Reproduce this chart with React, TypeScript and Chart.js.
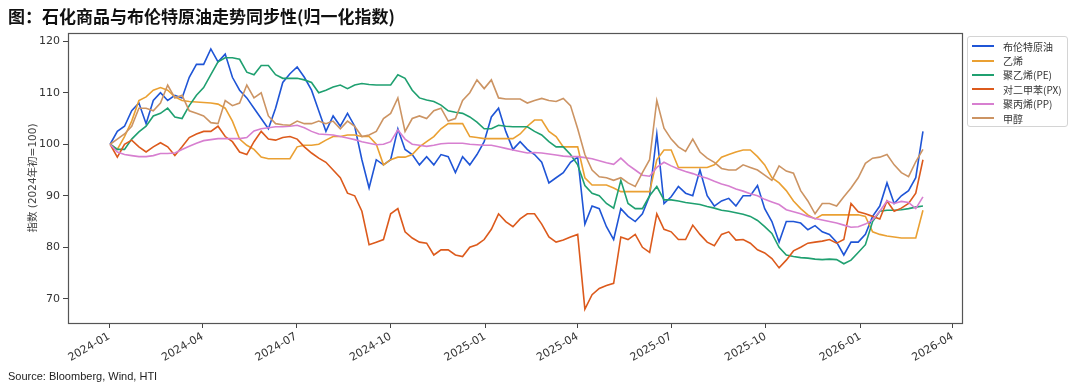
import React, { useEffect, useRef } from "react";
import { Chart, registerables } from "chart.js";

Chart.register(...registerables);

// ---------- data ----------
const BASE_DATE = "2024-01-01";
const FIRST_DATE = "2024-01-02"; // first weekly observation
const STEP_DAYS = 7;
const X_MIN_DATE = "2023-11-22";
const X_MAX_DATE = "2026-04-10";
const X_TICK_LABELS = [
  "2024-01", "2024-04", "2024-07", "2024-10", "2025-01",
  "2025-04", "2025-07", "2025-10", "2026-01", "2026-04",
];
const Y_TICKS = [70, 80, 90, 100, 110, 120];
const Y_MIN = 65.3;
const Y_MAX = 121.6;

const SERIES_NAMES = ["布伦特原油", "乙烯", "聚乙烯(PE)", "对二甲苯(PX)", "聚丙烯(PP)", "甲醇"];
const SERIES_COLORS = ["#1f55d6", "#eaa032", "#1fa070", "#dc5a1c", "#d77fd0", "#cc9463"];

const brent = [
  100, 102.5, 103.5, 106.5, 108, 104, 108.5, 110, 108.5, 109.5,
  109, 113, 115.5, 115.5, 118.5, 116, 117.5, 113, 110.5, 109,
  107, 105, 103, 107, 112, 113.7, 115, 113, 110.5, 106.5,
  102.5, 105.5, 103.5, 106, 103.5, 97, 91.5, 97, 96, 97,
  103, 99, 98, 96, 97.6, 96, 98, 97.6, 94.5, 97.6,
  96, 98, 100.5, 105.3, 107, 102.5, 99, 100.5, 99, 98,
  96.5, 92.5, 93.5, 94.5, 96.5, 97.5, 84.5, 88, 87.5, 84,
  81.5, 87.5, 86, 85, 86.5, 90, 102, 88.5, 89.8, 91.8,
  90.5, 90, 95, 90, 88, 89, 89.5, 88, 90, 90,
  92, 87.5, 85, 81, 85, 85, 84.7, 83.4, 84.2, 83,
  82.5, 81, 78.5, 81, 81, 82.5, 86, 88, 92.5, 88.5,
  90, 91, 93.5, 102.5,
];

const ethylene = [
  100, 99, 101.5, 104.5, 108.5, 109.2, 110.5, 111, 110.5, 109.2,
  108.5, 108.3, 108.2, 108.1, 108, 107.8, 107, 104.5, 101, 99.8,
  99, 97.5, 97.2, 97.2, 97.2, 97.2, 99.5, 99.8, 99.8, 100,
  100.8, 101.5, 101.5, 101.8, 101.8, 101.5, 101.5, 100, 96, 97,
  97.5, 97.5, 98, 99.5, 100.5, 101.5, 103, 104, 104, 104,
  101.5, 101.3, 101.1, 101.1, 101.1, 101.1, 101.1, 102, 103.5, 104.7,
  104.7, 102.5, 101.5, 99.5, 99.5, 99.5, 93.5, 92.1, 92.1, 92.1,
  91.5, 90.8, 90.8, 90.8, 90.8, 90.8, 97, 98.9, 98.9, 95.5,
  95.5, 95.5, 95.5, 95.5, 96, 97.5, 98, 98.5, 98.9, 98.9,
  97.6, 96, 93.5, 92.5, 91, 89, 87.5, 86.3, 85.5, 86.3,
  86.3, 86.3, 86.3, 86.3, 86.3, 86, 83, 82.5, 82.2, 82,
  81.8, 81.8, 81.8, 87.2,
];

const pe = [
  100, 99, 99, 101, 102.4, 103.5, 105.5, 106, 107, 105.3,
  105, 107.5, 109.5, 111, 113.5, 116, 116.8, 116.8, 116.5, 114,
  113.5, 115.3, 115.3, 113.5, 112.8, 112.8, 112.8, 112.5, 112, 110,
  110.5, 111.1, 111.5, 110.8, 111.5, 111.8, 111.6, 111.5, 111.5, 111.5,
  113.5, 112.8, 110.5, 109, 108.6, 108.3, 107.6, 106.5, 106.2, 106,
  105.3, 104.3, 103, 103, 103.7, 103.5, 103.4, 103.4, 103.4, 102.5,
  101.8, 100.5, 99.5, 99.5, 98, 96, 92, 90.5, 90, 88.5,
  87.6, 93, 88.5, 87.5, 87.5, 90, 91.8, 89.2, 89.2, 89,
  88.7, 88.5, 88.3, 87.9, 87.6, 87.2, 87, 86.7, 86.4, 86,
  85.2, 84, 82.7, 80, 78.5, 78.2, 78, 77.9, 77.7, 77.6,
  77.7, 77.6, 76.8, 77.5, 79, 80.5, 85, 87, 87.2, 87.2,
  87.3, 87.5, 87.8, 88,
];

const px = [
  100, 97.5, 100, 100.8, 99.5, 98.5, 99.5, 100.3, 99.5, 97.8,
  99.5, 101.3, 102, 102.5, 102.5, 103.5, 101.5, 100.5, 98.5, 98,
  100.5, 102.5, 101, 100.8, 101.3, 101.5, 101, 99.5, 98.3, 97.3,
  96.5, 95, 93.5, 90.5, 90, 87, 80.5, 81, 81.5, 86.5,
  87.5, 83, 81.8, 81, 80.8, 78.5, 79.5, 79.5, 78.5, 78.2,
  80, 80.5, 81.5, 83.5, 86.5, 85, 84, 85.5, 86.5, 86.5,
  84.5, 82, 81, 81.4, 82, 82.5, 68, 70.8, 72, 72.6,
  73, 82, 81.5, 82.5, 80, 79, 86.5, 83.5, 83, 81.5,
  81.5, 84.3, 82.5, 81, 80.3, 82.5, 83, 81.4, 81.5, 80.8,
  79.5, 78.9, 77.8, 76, 77.5, 79.3, 80, 80.8, 81, 81.2,
  81.5, 80.8, 81.5, 88.5, 86.9, 86.5, 86, 85.5, 89, 87,
  87.6, 88.5, 90.5, 97,
];

const pp = [
  100, 98.5, 98, 97.8, 97.6, 97.6, 97.8, 98.2, 98.2, 98.3,
  99, 99.6, 100.2, 100.7, 100.9, 101.1, 101.1, 101.1, 101.1, 101.3,
  102.6, 103, 103.2, 103.4, 103.4, 103.5, 103.7, 103.2, 102.5, 102,
  101.9, 101.8, 101.5, 101.2, 100.9, 100.5, 100.2, 99.9, 100, 100.5,
  102.8, 101, 100, 99.8, 99.6, 99.8, 100.1, 100.2, 100.2, 100.2,
  100, 99.9, 99.8, 99.8, 99.5, 99.2, 98.9, 98.6, 98.3, 98.4,
  98.3, 98.1, 97.9, 97.7, 97.6, 97.6, 97.4, 97.2, 96.8, 96.4,
  96.1, 97.3, 96, 95, 94, 93.8, 95.5, 96.5, 95.8, 95.2,
  94.7, 94.3, 93.8, 93.4, 92.8, 92.3, 91.9, 91.3, 90.9, 90.4,
  90, 89.3, 88.8, 88.3, 87.3, 86.9, 86.5, 86, 85.6, 85.3,
  85, 84.7, 84.3, 83.9, 84, 84.5, 85.3, 87, 89, 88.5,
  88.9, 88.7, 87.5, 89.8,
];

const methanol = [
  100, 101, 102, 103.5, 107, 107, 106.5, 108, 111.5, 109,
  109.5, 106.5, 106, 105.5, 104.2, 104, 108.5, 107.5, 108, 111.5,
  109, 110, 105.5, 104, 103.8, 103.7, 104.5, 104, 104, 104.5,
  104, 104.5, 103, 104.5, 103.5, 101.5, 101.8, 102.5, 105, 106,
  109, 102.5, 105, 105.5, 105, 106.5, 107, 104.5, 105, 108.5,
  110, 112.5, 110.8, 112.5, 109, 108.8, 108.8, 108.8, 108, 108.5,
  108.9, 108.5, 108.3, 108.9, 107.5, 103, 98, 95, 93.7, 93.5,
  93, 93.5, 92.5, 91.8, 94.5, 97, 108.5, 103.1, 101, 99.5,
  98.6, 101, 98.5, 97.3, 96.5, 95.3, 95, 95, 96, 95.5,
  95, 94, 93, 95.8, 94.8, 94.4, 91, 89, 86.5, 88.5,
  88.5, 88, 89.8, 91.5, 93.5, 96.3, 97.3, 97.5, 98, 96,
  94.5, 93.7, 96.6, 99,
];

const SERIES_VALUES = [brent, ethylene, pe, px, pp, methanol];

// ---------- helpers ----------
const DAY_MS = 86400000;
function utcOf(iso: string): number {
  const [y, m, d] = iso.split("-").map(Number);
  return Date.UTC(y, m - 1, d || 1);
}
function dayOf(iso: string): number {
  return Math.round((utcOf(iso) - utcOf(BASE_DATE)) / DAY_MS);
}
const DATES: string[] = brent.map((_, i) =>
  new Date(utcOf(FIRST_DATE) + i * STEP_DAYS * DAY_MS).toISOString().slice(0, 10)
);
const TICK_POS = X_TICK_LABELS.map((l) => dayOf(l + "-01"));

const TICK_FONT = '"DejaVu Sans", "Noto Sans CJK SC", sans-serif';

const framePlugin = {
  id: "frame",
  afterDatasetsDraw(chart: any) {
    const { ctx, chartArea } = chart;
    ctx.save();
    ctx.strokeStyle = "#555555";
    ctx.lineWidth = 1.2;
    ctx.strokeRect(
      Math.round(chartArea.left) + 0.5,
      Math.round(chartArea.top) + 0.5,
      Math.round(chartArea.right - chartArea.left),
      Math.round(chartArea.bottom - chartArea.top)
    );
    ctx.restore();
  },
};

export default function App() {
  const ref = useRef<HTMLCanvasElement | null>(null);

  useEffect(() => {
    if (!ref.current) return;
    const datasets = SERIES_NAMES.map((name, s) => ({
      label: name,
      data: SERIES_VALUES[s].map((v, i) => ({ x: dayOf(DATES[i]), y: v })),
      borderColor: SERIES_COLORS[s],
      backgroundColor: SERIES_COLORS[s],
      borderWidth: 1.6,
      pointRadius: 0,
      tension: 0,
      fill: false,
      order: SERIES_NAMES.length - s,
    }));

    const chart = new Chart(ref.current, {
      type: "line",
      data: { datasets },
      plugins: [framePlugin],
      options: {
        animation: false,
        responsive: false,
        maintainAspectRatio: false,
        parsing: false as any,
        layout: { padding: { left: 23, right: 118, top: 33, bottom: 16 } },
        plugins: {
          legend: { display: false },
          tooltip: { enabled: false },
          title: { display: false },
        },
        scales: {
          x: {
            type: "linear",
            min: dayOf(X_MIN_DATE),
            max: dayOf(X_MAX_DATE),
            afterBuildTicks: (scale: any) => {
              scale.ticks = TICK_POS.map((v) => ({ value: v }));
            },
            afterFit: (scale: any) => {
              scale.height = 50;
            },
            ticks: {
              autoSkip: false,
              minRotation: 30,
              maxRotation: 30,
              padding: 2,
              color: "#333333",
              font: { family: TICK_FONT, size: 11 },
              callback: (v: any) => {
                const idx = TICK_POS.indexOf(Number(v));
                return idx >= 0 ? X_TICK_LABELS[idx] : "";
              },
            },
            grid: {
              display: true,
              drawOnChartArea: false,
              drawTicks: true,
              tickLength: 5,
              color: "#444444",
            },
            border: { display: false },
          },
          y: {
            type: "linear",
            min: Y_MIN,
            max: Y_MAX,
            afterBuildTicks: (scale: any) => {
              scale.ticks = Y_TICKS.map((v) => ({ value: v }));
            },
            afterFit: (scale: any) => {
              scale.width = 45;
            },
            ticks: {
              autoSkip: false,
              padding: 3,
              color: "#333333",
              font: { family: TICK_FONT, size: 11 },
              callback: (v: any) => String(v),
            },
            grid: {
              display: true,
              drawOnChartArea: false,
              drawTicks: true,
              tickLength: 5,
              color: "#444444",
            },
            border: { display: false },
            title: {
              display: true,
              text: "指数 (2024年初=100)",
              color: "#444444",
              font: { family: TICK_FONT, size: 10.5 },
              padding: { top: 4, bottom: 4 },
            },
          },
        },
      },
    });
    return () => chart.destroy();
  }, []);

  return (
    <div
      style={{
        position: "absolute",
        left: 0,
        top: 0,
        width: 1080,
        height: 389,
        background: "#ffffff",
        overflow: "hidden",
      }}
    >
      <canvas
        ref={ref}
        width={1080}
        height={389}
        style={{ position: "absolute", left: 0, top: 0, width: 1080, height: 389 }}
      />
      <div
        style={{
          position: "absolute",
          left: 8,
          top: 5,
          fontFamily: '"Noto Sans CJK SC", sans-serif',
          fontWeight: 700,
          fontSize: 17,
          lineHeight: "22px",
          color: "#111111",
          whiteSpace: "nowrap",
        }}
      >
        图：石化商品与布伦特原油走势同步性(归一化指数)
      </div>
      <div
        style={{
          position: "absolute",
          left: 967,
          top: 36,
          width: 101,
          height: 91,
          border: "1px solid #d4d4d4",
          borderRadius: 3,
          boxSizing: "border-box",
          background: "#ffffff",
          paddingTop: 2,
        }}
      >
        {SERIES_NAMES.map((name, i) => (
          <div
            key={name}
            style={{
              display: "flex",
              alignItems: "center",
              height: 14.4,
              fontFamily: '"Noto Sans CJK SC", "DejaVu Sans", sans-serif',
              fontSize: 10,
              color: "#333333",
              whiteSpace: "nowrap",
            }}
          >
            <span
              style={{
                display: "inline-block",
                width: 22,
                height: 2,
                marginLeft: 4,
                marginRight: 9,
                background: SERIES_COLORS[i],
              }}
            />
            <span>{name}</span>
          </div>
        ))}
      </div>
      <div
        style={{
          position: "absolute",
          left: 8,
          top: 369,
          fontFamily: '"Liberation Sans", Arial, sans-serif',
          fontSize: 11,
          lineHeight: "14px",
          color: "#222222",
          whiteSpace: "nowrap",
        }}
      >
        Source: Bloomberg, Wind, HTI
      </div>
    </div>
  );
}
